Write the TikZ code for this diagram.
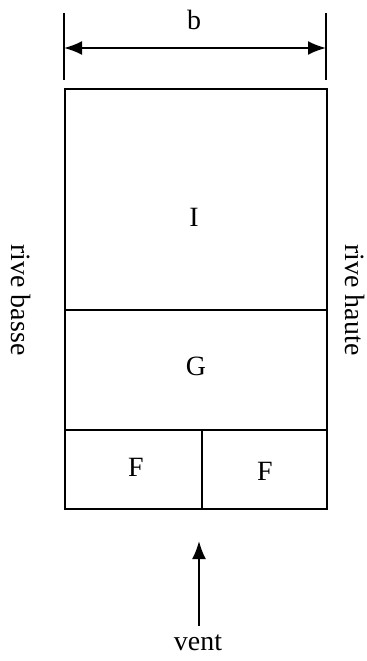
\documentclass[tikz,border=0pt]{standalone}
\usepackage{fontspec}
\setmainfont{Liberation Serif}
\usetikzlibrary{arrows.meta}
\begin{document}
\begin{tikzpicture}[x=1bp,y=-1bp,
  lbl/.style={font=\fontsize{28}{32}\selectfont, inner sep=0pt},
  frame/.style={line width=2.4bp},
  inner/.style={line width=1.6bp},
  dim/.style={line width=2bp, {Latex[length=18bp,width=14bp]}-{Latex[length=18bp,width=14bp]}}]
\useasboundingbox (0,0) rectangle (366,661);
% dimension
\coordinate (t1a) at (64,13); \coordinate (t1b) at (64,80);
\coordinate (t2a) at (326,13); \coordinate (t2b) at (326,80);
\draw[inner] (t1a) -- (t1b);
\draw[inner] (t2a) -- (t2b);
\coordinate (d1) at (64,48); \coordinate (d2) at (326,48);
\draw[dim] (d1) -- (d2);
\node[lbl] (b) at (194,20) {b};
% outer frame
\coordinate (tl) at (65,89); \coordinate (br) at (327,509);
\coordinate (gl) at (65,310); \coordinate (gr) at (327,310);
\coordinate (fl) at (65,430); \coordinate (fr) at (327,430);
\coordinate (vt) at (202,430); \coordinate (vb) at (202,509);
\draw[inner] (gl) -- (gr);
\draw[inner] (fl) -- (fr);
\draw[inner] (vt) -- (vb);
\draw[frame] (tl) rectangle (br);
\node[lbl] (I) at (194,217) {I};
\node[lbl] (G) at (196,366) {G};
\node[lbl] (F1) at (136,467) {F};
\node[lbl] (F2) at (265,471) {F};
\node[lbl, rotate=-90] (rb) at (21,300) {rive basse};
\node[lbl, rotate=-90] (rh) at (355,300) {rive haute};
% wind
\coordinate (wb) at (199,626);
\coordinate (wt) at (199,541);
\draw[line width=2bp, -{Latex[length=18bp,width=14bp]}] (wb) -- (wt);
\node[lbl] (vent) at (198,643) {vent};
\end{tikzpicture}
\end{document}
